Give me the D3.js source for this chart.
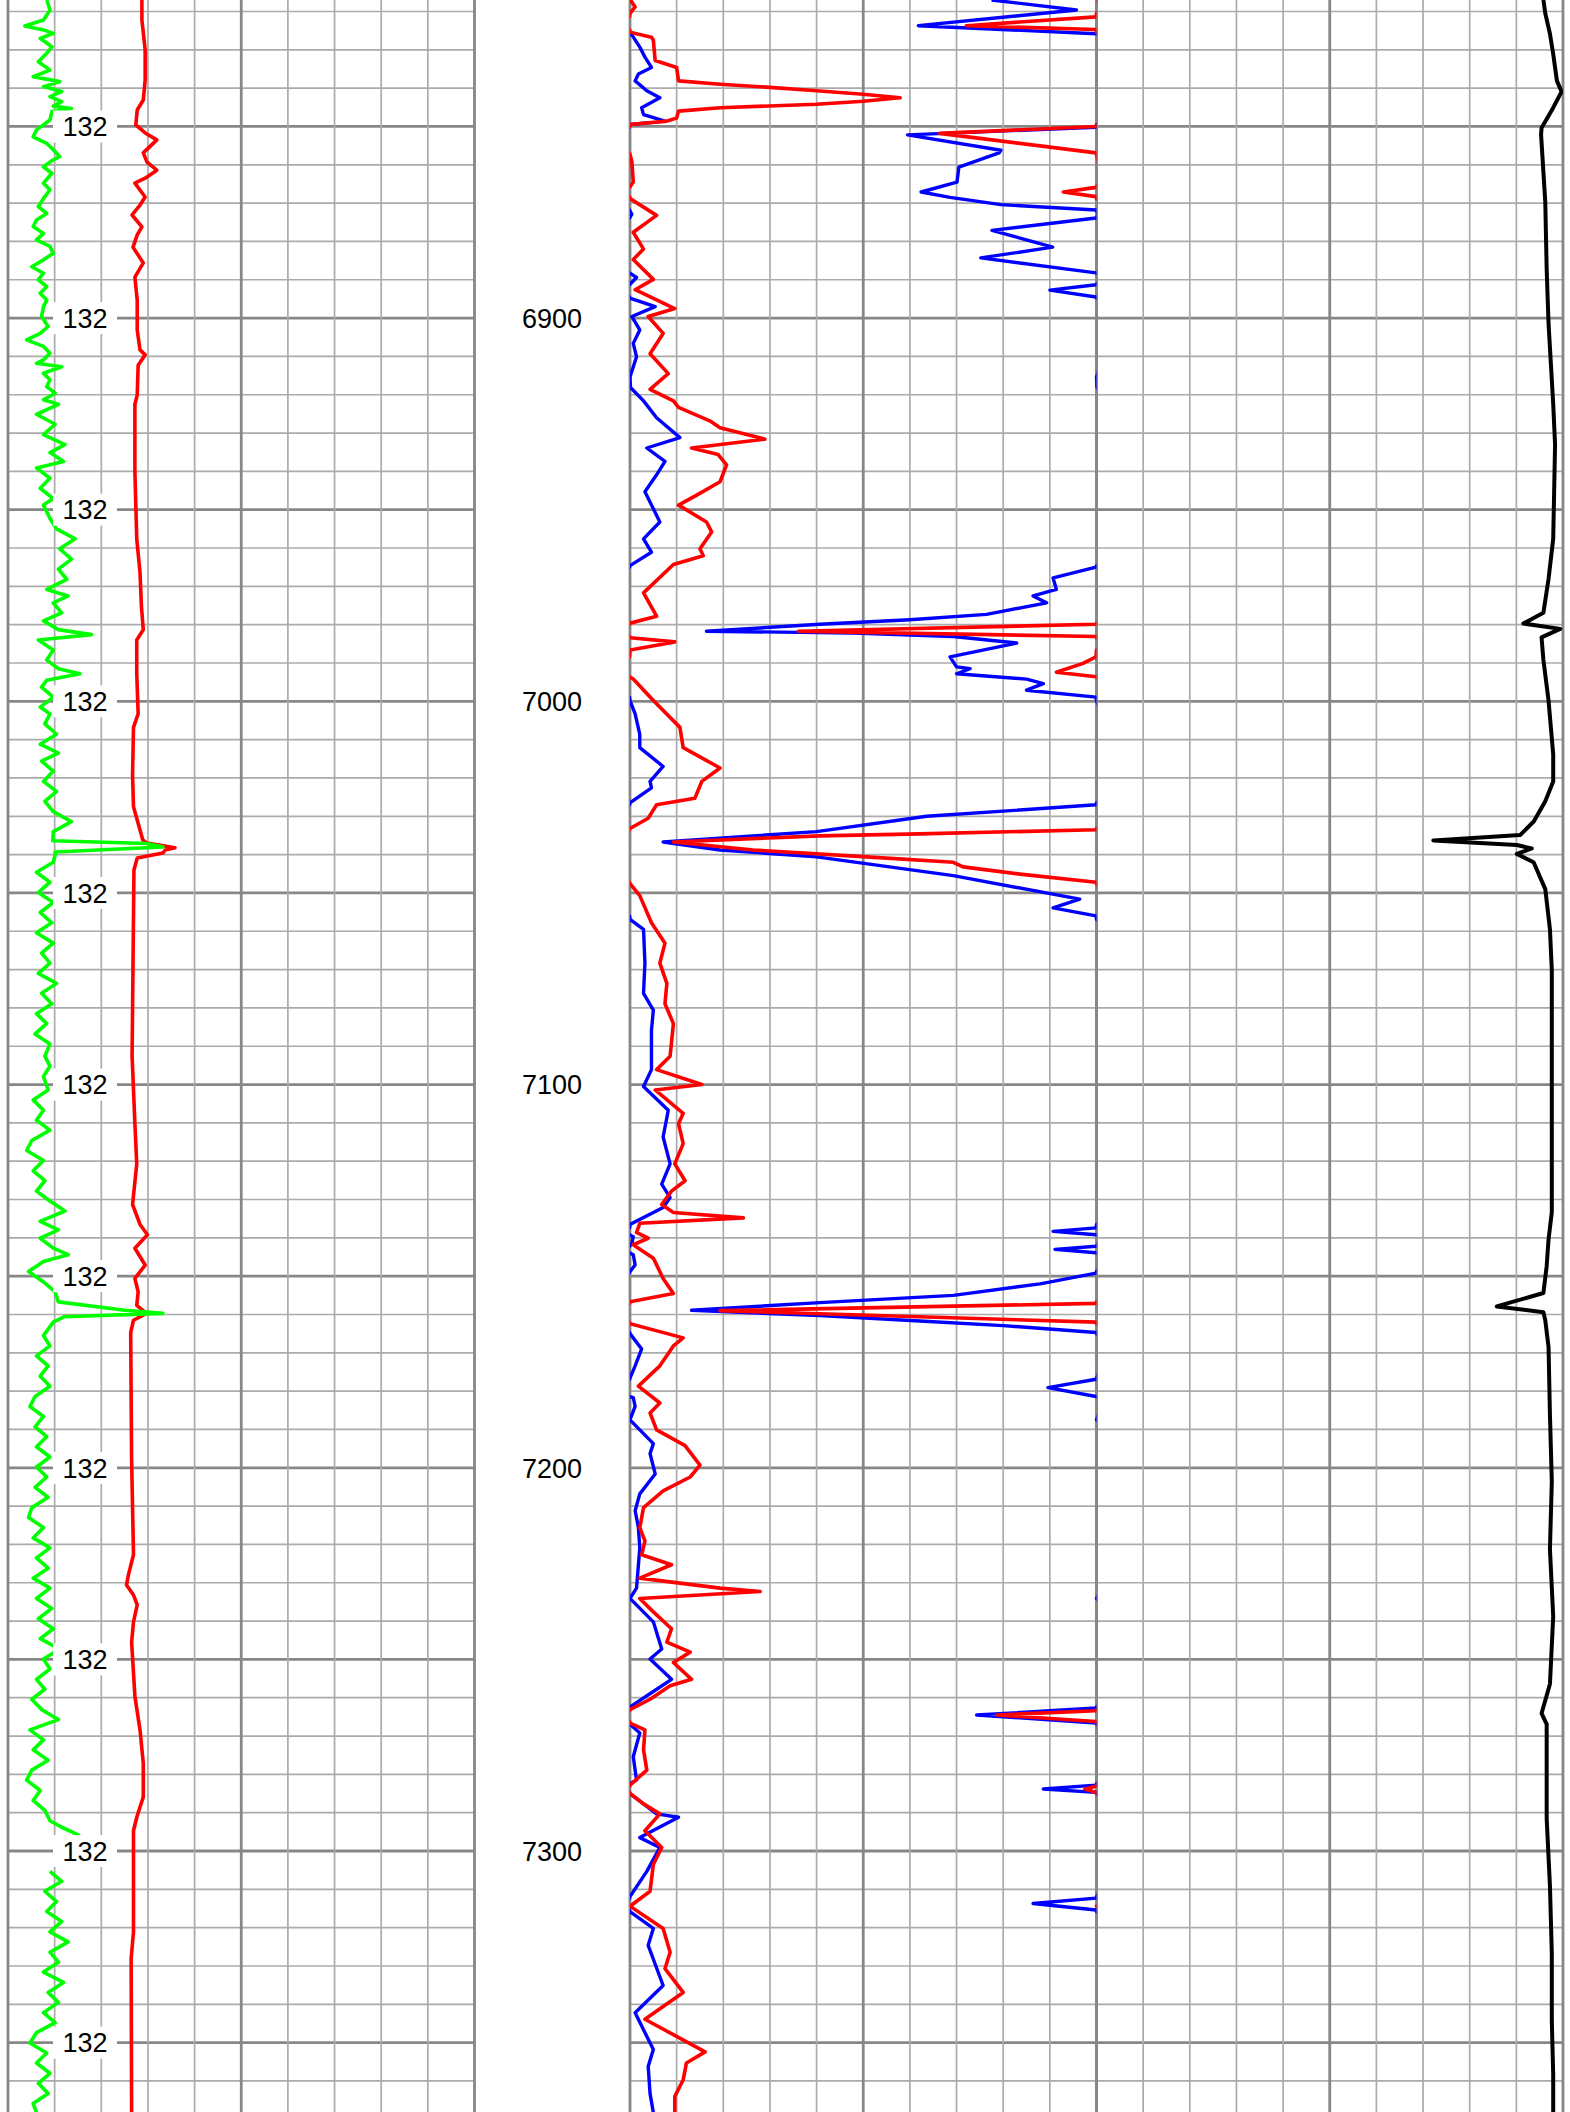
<!DOCTYPE html>
<html>
<head>
<meta charset="utf-8">
<script src="https://cdn.jsdelivr.net/npm/d3@7"></script>
<style>
  html, body { margin: 0; padding: 0; background: #ffffff; }
  svg { display: block; }
</style>
</head>
<body>
<svg id="log" width="1570" height="2112"></svg>
<script>
// ---- Depth window (ft) ----
const topDepth = 6817;
const baseDepth = 7368.1;

// ---- Annotation values ----
const depthLabels = [6900, 7000, 7100, 7200, 7300];
const scaleLabelDepths = [6850, 6900, 6950, 7000, 7050, 7100, 7150, 7200, 7250, 7300, 7350];
const scaleLabelText = "132";

// ---- Track 1: gamma ray (green) and caliper-type curve (red); [depth, value] on 0-100 ----
const gammaRay = [
  [6817.0, 8.3], [6819.6, 9.0], [6822.2, 7.6], [6823.8, 3.6], [6824.8, 7.6], [6825.7, 9.7],
  [6827.0, 6.9], [6829.2, 9.4], [6830.9, 8.3], [6833.1, 6.5], [6835.3, 9.0], [6837.0, 5.4],
  [6838.3, 11.1], [6839.6, 7.6], [6840.9, 11.5], [6842.2, 9.0], [6843.5, 11.5], [6844.7, 9.7],
  [6845.3, 13.6], [6846.1, 9.4], [6848.3, 9.0], [6850.9, 6.1], [6852.7, 5.4], [6854.4, 8.3],
  [6856.1, 9.7], [6857.9, 11.1], [6858.7, 9.7], [6860.5, 7.6], [6862.2, 9.4], [6864.8, 7.6],
  [6866.5, 9.0], [6868.3, 7.9], [6870.9, 6.5], [6872.7, 8.3], [6874.4, 6.1], [6876.1, 5.4],
  [6877.9, 7.6], [6879.6, 6.1], [6881.3, 9.0], [6883.1, 9.7], [6884.8, 7.6], [6886.6, 5.1],
  [6888.3, 7.6], [6890.0, 6.5], [6891.8, 8.3], [6893.5, 6.9], [6895.3, 8.3], [6897.0, 7.6],
  [6899.6, 7.2], [6902.2, 8.6], [6904.0, 6.9], [6905.7, 4.0], [6907.4, 7.6], [6909.2, 9.0],
  [6910.9, 7.6], [6911.8, 6.1], [6912.7, 11.5], [6914.4, 7.6], [6916.1, 9.0], [6917.9, 8.3],
  [6919.6, 10.1], [6921.3, 7.6], [6922.5, 10.8], [6925.1, 6.1], [6927.7, 10.1], [6930.4, 7.6],
  [6933.0, 12.2], [6935.1, 9.0], [6937.4, 11.9], [6939.1, 6.1], [6941.8, 9.0], [6944.4, 6.9],
  [6947.1, 9.7], [6948.8, 7.6], [6952.3, 9.0], [6955.0, 10.4], [6957.6, 14.4], [6960.2, 11.1],
  [6962.9, 13.6], [6965.5, 10.8], [6968.2, 12.6], [6970.8, 8.3], [6972.5, 12.9], [6974.3, 9.7],
  [6976.9, 11.5], [6979.0, 7.6], [6981.3, 10.8], [6982.6, 17.9], [6984.0, 6.5], [6986.6, 9.7],
  [6989.2, 8.3], [6991.5, 10.8], [6992.8, 15.4], [6994.5, 8.3], [6996.3, 7.2], [6998.9, 9.7],
  [7001.5, 6.9], [7003.3, 9.0], [7005.9, 7.9], [7008.6, 10.4], [7011.2, 6.9], [7013.5, 10.8],
  [7015.6, 7.2], [7018.2, 9.7], [7020.9, 7.6], [7023.5, 10.4], [7026.1, 7.9], [7028.8, 9.7],
  [7031.4, 13.6], [7034.0, 9.7], [7036.4, 9.6], [7037.1, 29.8], [7038.0, 33.2], [7039.3, 10.1],
  [7040.1, 10.1], [7042.0, 9.7], [7044.6, 6.1], [7047.2, 9.0], [7049.9, 6.5], [7052.5, 9.7],
  [7055.1, 6.9], [7057.8, 9.4], [7060.4, 6.1], [7063.1, 9.7], [7065.7, 7.2], [7068.3, 9.0],
  [7071.0, 6.5], [7073.6, 10.4], [7076.2, 7.2], [7078.9, 9.4], [7081.5, 6.1], [7084.1, 8.3],
  [7086.8, 5.8], [7089.4, 9.0], [7092.6, 7.9], [7095.2, 9.0], [7097.9, 7.6], [7101.4, 8.6],
  [7104.0, 5.4], [7106.7, 7.6], [7109.3, 6.1], [7111.9, 9.0], [7114.6, 5.1], [7117.2, 4.0],
  [7119.8, 7.6], [7122.5, 5.4], [7125.1, 7.9], [7127.8, 6.1], [7130.4, 9.0], [7133.0, 12.2],
  [7135.7, 6.9], [7137.9, 10.8], [7140.1, 6.9], [7142.7, 9.7], [7144.4, 12.9], [7146.2, 7.6],
  [7148.8, 4.4], [7151.5, 7.6], [7154.1, 10.1], [7156.7, 10.8], [7158.9, 25.0], [7159.7, 33.2],
  [7160.6, 12.0], [7162.0, 9.7], [7165.5, 7.6], [7168.2, 9.0], [7170.8, 6.1], [7173.4, 8.6],
  [7176.1, 6.9], [7178.7, 9.0], [7181.4, 5.8], [7184.0, 4.7], [7186.6, 7.6], [7189.3, 5.8],
  [7191.9, 8.3], [7194.5, 6.1], [7197.2, 9.0], [7199.8, 6.1], [7202.4, 8.3], [7205.1, 5.8],
  [7207.7, 8.6], [7210.4, 5.1], [7213.0, 4.4], [7215.6, 7.6], [7218.3, 5.4], [7220.9, 9.0],
  [7223.5, 6.1], [7226.2, 8.6], [7228.8, 5.4], [7231.4, 9.0], [7234.1, 6.1], [7236.7, 9.4],
  [7239.4, 6.5], [7242.0, 9.7], [7244.6, 6.9], [7247.3, 11.1], [7249.9, 7.6], [7252.5, 9.0],
  [7255.2, 6.1], [7257.8, 7.9], [7260.4, 5.1], [7263.1, 7.2], [7265.7, 10.8], [7268.4, 4.7],
  [7271.0, 7.6], [7273.6, 5.4], [7276.3, 8.6], [7278.9, 5.1], [7281.5, 4.0], [7284.2, 6.9],
  [7286.8, 5.4], [7289.4, 7.9], [7292.1, 9.0], [7293.8, 11.5], [7296.0, 15.4], [7300.0, null],
  [7305.3, 9.0], [7307.9, 11.5], [7310.5, 7.9], [7313.2, 10.4], [7315.8, 8.3], [7318.4, 11.5],
  [7321.1, 9.0], [7323.7, 12.9], [7326.4, 9.0], [7329.0, 10.8], [7331.6, 7.6], [7334.3, 11.9],
  [7336.9, 8.6], [7339.5, 10.8], [7342.2, 7.6], [7344.8, 10.1], [7347.4, 6.1], [7350.1, 4.7],
  [7352.7, 8.3], [7355.3, 6.1], [7358.0, 9.0], [7360.6, 6.5], [7363.3, 8.6], [7365.9, 5.4],
  [7368.2, 6.1]
];

const caliper = [
  [6817.0, 28.7], [6822.2, 28.7], [6830.0, 29.4], [6837.9, 29.4], [6843.1, 29.0], [6845.7, 27.7],
  [6849.6, 27.4], [6851.7, 29.4], [6853.5, 31.9], [6856.9, 29.0], [6859.3, 29.8], [6861.4, 31.9],
  [6863.5, 29.4], [6864.8, 27.2], [6868.4, 29.4], [6870.5, 28.3], [6873.1, 26.6], [6876.2, 28.7],
  [6878.3, 27.7], [6881.5, 26.8], [6885.6, 29.0], [6889.3, 27.2], [6895.3, 27.7], [6903.1, 27.7],
  [6908.3, 28.3], [6909.6, 29.4], [6912.3, 27.9], [6920.1, 27.7], [6922.5, 27.2], [6940.0, 27.2],
  [6957.6, 27.6], [6966.4, 28.3], [6975.2, 28.6], [6981.3, 29.0], [6984.0, 27.6], [6992.8, 27.6],
  [7003.3, 27.9], [7006.8, 26.9], [7019.1, 26.7], [7027.5, 26.9], [7036.2, 28.9], [7037.0, 29.8],
  [7038.2, 35.8], [7038.8, 33.7], [7039.6, 33.2], [7040.9, 27.7], [7044.0, 27.0], [7092.6, 26.6],
  [7110.2, 27.2], [7120.7, 27.6], [7131.3, 26.7], [7136.5, 28.3], [7139.2, 29.9], [7142.7, 27.2],
  [7147.1, 29.4], [7150.6, 27.2], [7154.1, 27.9], [7157.6, 27.6], [7159.7, 29.7], [7161.5, 26.9],
  [7164.7, 26.3], [7198.1, 26.5], [7222.7, 26.9], [7228.0, 25.8], [7230.6, 25.4], [7233.2, 26.9],
  [7235.8, 27.7], [7240.2, 26.9], [7245.5, 26.5], [7259.6, 27.2], [7268.4, 28.3], [7277.1, 29.0],
  [7285.9, 29.0], [7291.2, 27.6], [7294.7, 26.9], [7321.1, 26.9], [7328.1, 26.4], [7368.2, 26.5]
];

// ---- Track 2: two resistivity-type curves, 0-100 with backup wrap above 100 ----
const curveRed = [
  [6817.0, 100.1], [6818.8, 101.1], [6820.5, 100.0], [6821.4, 99.9], [6823.7, 72.1], [6824.7, 99.9],
  [6825.4, 100.0], [6826.7, 104.6], [6827.5, 105.0], [6832.8, 105.4], [6834.6, 110.0], [6838.1, 110.4],
  [6839.0, 119.3], [6839.8, 130.0], [6840.7, 140.0], [6841.6, 150.0], [6842.5, 157.9], [6843.4, 150.0],
  [6844.2, 140.0], [6845.1, 119.3], [6846.0, 110.4], [6847.8, 110.0], [6848.6, 107.9], [6849.5, 100.0],
  [6850.0, 99.9], [6851.8, 66.4], [6856.9, 99.9], [6859.2, 100.4], [6864.5, 100.7], [6865.9, 99.9],
  [6867.1, 92.9], [6868.3, 99.9], [6868.8, 100.0], [6873.2, 105.7], [6877.6, 100.7], [6882.0, 102.9],
  [6884.7, 100.7], [6889.9, 105.0], [6892.6, 101.1], [6897.5, 109.6], [6899.6, 103.9], [6904.0, 107.1],
  [6909.3, 104.3], [6914.5, 108.2], [6918.6, 104.3], [6921.6, 109.3], [6923.3, 110.4], [6926.8, 117.1],
  [6928.6, 119.3], [6931.6, 128.9], [6933.9, 113.2], [6935.6, 118.9], [6938.3, 120.7], [6942.7, 119.3],
  [6946.2, 114.3], [6948.8, 110.4], [6953.2, 116.4], [6955.8, 117.5], [6960.2, 115.0], [6962.0, 115.7],
  [6964.3, 109.3], [6971.7, 102.9], [6977.8, 105.7], [6979.6, 100.0], [6979.9, 99.9], [6981.7, 36.1],
  [6983.1, 99.9], [6983.4, 100.0], [6984.5, 109.6], [6986.6, 100.0], [6988.4, 99.9], [6990.1, 97.1],
  [6992.4, 91.4], [6993.6, 99.9], [6994.2, 100.7], [6999.8, 105.0], [7006.8, 110.7], [7012.1, 111.4],
  [7017.4, 119.3], [7020.9, 115.4], [7025.3, 113.9], [7027.0, 105.7], [7030.5, 103.9], [7033.2, 100.0],
  [7033.5, 99.9], [7034.6, 62.1], [7035.1, 40.7], [7036.7, 9.3], [7038.8, 26.4], [7040.6, 50.7],
  [7042.0, 69.3], [7043.2, 71.4], [7045.1, 83.6], [7047.2, 99.9], [7047.6, 100.0], [7050.7, 102.1],
  [7057.8, 104.6], [7063.1, 107.5], [7068.3, 106.4], [7073.6, 107.9], [7078.9, 107.5], [7084.1, 109.3],
  [7092.6, 108.6], [7096.1, 105.7], [7100.0, 115.4], [7101.4, 105.4], [7107.5, 111.4], [7110.2, 110.4],
  [7115.4, 111.4], [7120.7, 109.6], [7125.1, 111.8], [7127.8, 108.9], [7131.3, 106.8], [7133.4, 109.3],
  [7134.8, 124.3], [7136.2, 102.1], [7138.6, 101.4], [7140.1, 103.9], [7141.8, 100.7], [7145.3, 105.0],
  [7150.6, 107.1], [7154.5, 109.3], [7156.7, 100.0], [7157.1, 99.9], [7159.0, 19.3], [7162.0, 99.9],
  [7162.4, 100.0], [7166.1, 111.4], [7168.2, 109.3], [7173.4, 106.4], [7178.7, 101.8], [7183.1, 106.4],
  [7185.7, 104.3], [7190.1, 105.7], [7194.2, 111.8], [7199.3, 115.0], [7202.4, 112.9], [7206.0, 107.1],
  [7210.4, 102.9], [7215.6, 102.1], [7219.1, 103.2], [7222.7, 102.5], [7225.3, 108.9], [7228.8, 102.1],
  [7231.4, 119.3], [7232.3, 127.9], [7234.1, 102.1], [7237.6, 105.0], [7242.0, 108.9], [7245.5, 107.9],
  [7248.1, 112.9], [7250.8, 109.3], [7255.2, 113.2], [7256.9, 108.6], [7260.4, 104.3], [7263.1, 100.0],
  [7263.4, 99.9], [7264.5, 78.6], [7266.2, 99.9], [7266.6, 100.0], [7268.4, 103.2], [7273.6, 102.9],
  [7278.9, 103.6], [7282.8, 100.0], [7283.1, 99.9], [7283.8, 97.5], [7284.7, 99.9], [7285.0, 100.0],
  [7287.7, 102.9], [7290.3, 106.4], [7294.7, 103.2], [7299.1, 106.8], [7303.5, 105.0], [7310.5, 104.3],
  [7314.4, 100.0], [7320.2, 107.1], [7326.4, 108.6], [7330.7, 107.5], [7336.9, 111.4], [7343.9, 103.2],
  [7352.4, 116.1], [7355.3, 112.1], [7359.7, 111.4], [7364.1, 109.6], [7368.2, 109.6]
];

const curveBlue = [
  [6817.0, 77.5], [6819.6, 95.7], [6823.7, 61.8], [6825.8, 99.9], [6826.1, 100.4], [6829.3, 102.1],
  [6831.9, 103.2], [6834.6, 104.6], [6836.3, 101.8], [6838.1, 101.1], [6840.7, 103.6], [6842.5, 106.4],
  [6845.1, 102.5], [6846.9, 102.9], [6848.6, 107.5], [6849.5, 100.0], [6850.2, 99.9], [6852.2, 59.5],
  [6856.2, 79.5], [6856.9, 79.1], [6860.6, 70.5], [6864.5, 70.1], [6867.1, 62.4], [6868.5, 68.6],
  [6870.4, 79.5], [6871.8, 99.9], [6872.9, 100.4], [6873.9, 99.9], [6877.1, 77.6], [6881.5, 90.6],
  [6884.3, 75.2], [6888.2, 99.9], [6889.4, 101.4], [6891.3, 99.9], [6892.7, 90.0], [6894.5, 99.9],
  [6894.8, 100.0], [6897.0, 105.4], [6899.6, 100.4], [6903.1, 102.1], [6906.6, 100.7], [6910.1, 101.4],
  [6915.4, 100.0], [6918.1, 100.1], [6921.6, 102.9], [6926.0, 105.7], [6931.2, 110.7], [6933.9, 103.6],
  [6937.4, 107.5], [6940.9, 105.7], [6945.3, 103.2], [6953.2, 106.4], [6957.6, 102.9], [6961.1, 104.6],
  [6964.6, 100.0], [6965.0, 99.9], [6967.8, 90.7], [6970.8, 91.4], [6972.5, 86.4], [6974.3, 89.3],
  [6977.3, 76.4], [6978.7, 60.0], [6979.9, 40.7], [6981.7, 16.4], [6982.2, 47.9], [6983.1, 69.3],
  [6984.8, 82.9], [6988.4, 68.6], [6991.0, 70.0], [6991.5, 72.9], [6992.8, 70.0], [6994.2, 85.0],
  [6995.4, 88.6], [6997.1, 85.0], [6998.9, 99.9], [6999.8, 100.0], [7003.3, 101.1], [7008.6, 102.1],
  [7012.1, 102.1], [7017.0, 107.1], [7020.9, 104.3], [7022.6, 104.6], [7026.5, 100.0], [7027.0, 99.9],
  [7030.0, 63.6], [7034.0, 40.0], [7036.7, 7.1], [7038.8, 19.3], [7040.6, 40.0], [7045.5, 69.3],
  [7051.6, 96.4], [7053.9, 90.7], [7056.0, 99.9], [7056.9, 100.0], [7059.5, 102.9], [7068.3, 103.2],
  [7076.2, 102.9], [7080.6, 105.0], [7085.9, 104.6], [7092.6, 104.6], [7096.1, 104.6], [7100.5, 102.9],
  [7106.7, 108.2], [7113.7, 107.1], [7120.7, 108.6], [7126.0, 106.8], [7129.5, 108.6], [7132.1, 107.1],
  [7136.5, 100.0], [7137.4, 99.9], [7138.3, 90.7], [7139.2, 99.9], [7139.7, 100.7], [7141.5, 100.4],
  [7142.2, 99.9], [7143.0, 91.1], [7143.9, 99.9], [7144.4, 100.7], [7147.1, 101.1], [7148.8, 100.0],
  [7149.2, 99.9], [7152.0, 87.9], [7155.0, 69.3], [7156.9, 40.7], [7158.9, 13.2], [7160.3, 40.7],
  [7161.7, 62.1], [7162.9, 80.0], [7164.7, 99.9], [7165.0, 100.0], [7169.0, 102.5], [7173.4, 101.1],
  [7176.6, 100.0], [7176.9, 99.9], [7179.1, 89.6], [7181.4, 99.9], [7181.7, 100.7], [7184.0, 101.1],
  [7187.5, 100.0], [7193.7, 105.0], [7196.3, 104.3], [7201.6, 105.4], [7206.8, 102.1], [7211.2, 101.1],
  [7215.6, 101.8], [7220.9, 102.1], [7231.4, 101.4], [7234.1, 100.0], [7240.2, 105.0], [7247.3, 106.8],
  [7249.9, 104.3], [7255.2, 108.9], [7258.7, 104.6], [7262.4, 100.0], [7262.7, 99.9], [7264.5, 74.3],
  [7266.6, 99.9], [7266.9, 100.0], [7269.2, 102.1], [7275.4, 100.7], [7281.5, 101.4], [7282.4, 100.0],
  [7282.8, 99.9], [7283.8, 88.6], [7284.7, 99.9], [7285.0, 100.0], [7290.3, 105.7], [7291.2, 110.4],
  [7296.5, 102.1], [7299.1, 106.4], [7305.3, 103.6], [7311.9, 100.0], [7312.3, 99.9], [7313.7, 86.4],
  [7315.4, 99.9], [7315.8, 100.0], [7320.2, 105.0], [7324.6, 103.9], [7335.1, 107.1], [7342.2, 101.1],
  [7351.8, 105.0], [7356.2, 103.9], [7363.3, 104.3], [7368.2, 105.0]
];

// ---- Track 3: single curve (black), 0-100 ----
const curveBlack = [
  [6817.0, 95.8], [6820.5, 96.2], [6825.8, 97.2], [6831.1, 97.9], [6838.1, 98.7], [6840.9, 99.7],
  [6845.1, 97.9], [6850.4, 95.4], [6852.1, 95.3], [6869.7, 96.2], [6887.3, 96.5], [6901.4, 96.9],
  [6922.4, 97.9], [6933.0, 98.3], [6957.6, 97.9], [6968.1, 96.9], [6976.9, 95.8], [6979.7, 91.5],
  [6981.1, 99.4], [6983.3, 95.4], [6989.2, 95.8], [6999.8, 96.9], [7013.8, 97.9], [7020.9, 97.9],
  [7026.1, 96.2], [7031.4, 93.7], [7034.9, 90.8], [7036.3, 72.2], [7037.5, 90.1], [7038.4, 93.3],
  [7039.8, 90.1], [7042.0, 93.7], [7049.0, 96.2], [7059.5, 97.2], [7070.1, 97.6], [7098.2, 97.6],
  [7133.3, 97.6], [7140.4, 96.9], [7147.4, 96.5], [7154.4, 95.8], [7157.9, 85.8], [7159.4, 95.8],
  [7161.5, 96.2], [7168.5, 96.9], [7186.1, 97.2], [7203.6, 97.6], [7221.2, 97.2], [7238.8, 97.9],
  [7256.4, 97.2], [7264.1, 95.4], [7266.9, 96.5], [7291.5, 96.5], [7309.1, 97.2], [7326.7, 97.6],
  [7344.2, 97.6], [7358.3, 97.9], [7368.1, 97.9]
];

// ---- Layout ----
const width = 1570, height = 2112;
const trackW = 466.5;
const trackLeft = [8, 630, 1096.5];
const depthTrackCenter = 552;
const fontFamily = "'Liberation Sans', Arial, Helvetica, sans-serif";

const svg = d3.select("#log");
svg.append("rect").attr("width", width).attr("height", height).attr("fill", "#ffffff");

const y = d3.scaleLinear().domain([topDepth, baseDepth]).range([0, height]);
const xs = trackLeft.map(x0 => d3.scaleLinear().domain([0, 100]).range([x0, x0 + trackW]));

// clip regions, one per track
const defs = svg.append("defs");
trackLeft.forEach((x0, i) => {
  defs.append("clipPath").attr("id", "clip" + i)
    .append("rect").attr("x", x0).attr("y", 0).attr("width", trackW).attr("height", height);
});

// ---- Grid ----
const gridDepths = d3.range(Math.ceil(topDepth / 10) * 10, baseDepth, 10);
const gridValues = d3.range(0, 101, 10);
const isMajorDepth = d => d % 50 === 0;
const isMajorValue = v => v % 50 === 0;

xs.forEach((x) => {
  const g = svg.append("g").attr("class", "grid");
  const order = (arr, major) => arr.slice().sort((a, b) => major(a) - major(b));
  g.selectAll("line.h").data(order(gridDepths, isMajorDepth)).join("line")
    .attr("class", "h")
    .attr("x1", x(0)).attr("x2", x(100))
    .attr("y1", d => y(d)).attr("y2", d => y(d))
    .attr("stroke", d => isMajorDepth(d) ? "#878787" : "#ababab")
    .attr("stroke-width", d => isMajorDepth(d) ? 2.8 : 1.7);
  g.selectAll("line.v").data(order(gridValues, isMajorValue)).join("line")
    .attr("class", "v")
    .attr("x1", d => x(d)).attr("x2", d => x(d))
    .attr("y1", 0).attr("y2", height)
    .attr("stroke", d => isMajorValue(d) ? "#878787" : "#ababab")
    .attr("stroke-width", d => isMajorValue(d) ? 2.8 : 1.7);
});

// ---- Curves ----
function drawCurve(data, xScale, clipIndex, color, widthPx, shift = 0) {
  const gen = d3.line()
    .defined(d => d[1] !== null)
    .x(d => xScale(d[1] - shift))
    .y(d => y(d[0]));
  svg.append("path")
    .datum(data)
    .attr("clip-path", `url(#clip${clipIndex})`)
    .attr("fill", "none")
    .attr("stroke", color)
    .attr("stroke-width", widthPx)
    .attr("stroke-linejoin", "round")
    .attr("stroke-linecap", "butt")
    .attr("d", gen);
}

// Track 1
drawCurve(caliper, xs[0], 0, "#ff0000", 3.6);
drawCurve(gammaRay, xs[0], 0, "#00ff00", 3.6);

// Track 2 (main scale plus wrapped backup trace)
drawCurve(curveBlue, xs[1], 1, "#0000ff", 3.4);
drawCurve(curveBlue, xs[1], 1, "#0000ff", 3.4, 100);
drawCurve(curveRed, xs[1], 1, "#ff0000", 3.6);
drawCurve(curveRed, xs[1], 1, "#ff0000", 3.6, 100);

// Track 3
drawCurve(curveBlack, xs[2], 2, "#000000", 4);

// ---- Scale labels inside track 1 ----
const lab = svg.append("g").attr("class", "scale-labels");
const labX0 = 53, labX1 = 117;
const labelGroups = lab.selectAll("g").data(scaleLabelDepths).join("g")
  .attr("transform", d => `translate(0,${y(d)})`);
labelGroups.append("rect")
  .attr("x", labX0).attr("y", -16).attr("width", labX1 - labX0).attr("height", 32)
  .attr("fill", "#ffffff");
labelGroups.append("text")
  .attr("x", (labX0 + labX1) / 2)
  .attr("y", 0)
  .attr("dy", "0.36em")
  .attr("text-anchor", "middle")
  .attr("font-family", fontFamily)
  .attr("font-size", 27)
  .attr("fill", "#000000")
  .text(scaleLabelText);

// ---- Depth labels ----
svg.append("g").attr("class", "depth-labels")
  .selectAll("text").data(depthLabels).join("text")
  .attr("x", depthTrackCenter)
  .attr("y", d => y(d))
  .attr("dy", "0.36em")
  .attr("text-anchor", "middle")
  .attr("font-family", fontFamily)
  .attr("font-size", 27)
  .attr("fill", "#000000")
  .text(d => d);
</script>
</body>
</html>
